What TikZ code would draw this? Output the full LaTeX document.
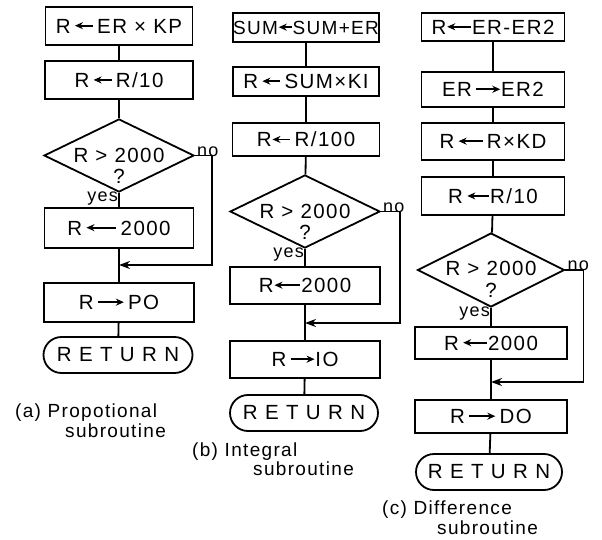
\documentclass[tikz,border=0pt]{standalone}
\usepackage{fontspec}
\setmainfont{Liberation Sans}[LetterSpace=7]
\usetikzlibrary{shapes.geometric,shapes.misc,arrows.meta}
\newcommand\lar[1][18]{\tikz[x=1pt,y=1pt,baseline=-0.36em]\draw[line width=1.7pt,{Stealth[length=8pt,width=7pt]}-](0,0)--(#1,0);}
\newcommand\rar[1][18]{\tikz[x=1pt,y=1pt,baseline=-0.36em]\draw[line width=1.7pt,-{Stealth[length=8pt,width=7pt]}](0,0)--(#1,0);}
\newcommand\rsp{\addfontfeature{LetterSpace=36}}
\tikzset{
  every node/.style={font=\fontsize{20.5}{23}\selectfont},
  box/.style n args={2}{draw,line width=1.8pt,rectangle,minimum width=#1,minimum height=#2,inner sep=1pt},
  ret/.style n args={2}{draw,line width=1.8pt,rounded rectangle,minimum width=#1,minimum height=#2,inner sep=1pt},
  dia/.style n args={2}{draw,line width=1.8pt,diamond,minimum width=#1,minimum height=#2,inner sep=0pt},
  lbl/.style={inner sep=0pt},
  small/.style={inner sep=0pt,font=\fontsize{18}{20}\selectfont},
  captxt/.style={inner sep=0pt,anchor=west,font=\fontsize{19}{20}\selectfont},
  conn/.style={line width=1.8pt},
  noarr/.style={line width=1.8pt,-{Stealth[length=11pt,width=8pt]}},
}
\begin{document}
\begin{tikzpicture}[x=1pt,y=-1pt]
\useasboundingbox (0,0) rectangle (602,540);
% ---------- column (a)
\node[box={147pt}{38pt}] (a1) at (119,26) {R\,\lar\,ER × KP};
\node[box={148pt}{38pt}] (a2) at (119,80) {R\,\lar\,R/10};
\node[dia={150pt}{73pt}] (ad) at (119,155.5) {};
\node[lbl] (adt) at (119,155) {R > 2000};
\node[lbl] (adq) at (119,176) {?};
\node[box={149pt}{40pt}] (a3) at (119,228) {R\,\lar[30]\,2000};
\coordinate (am) at (119,265);
\node[box={150pt}{39pt}] (a4) at (119,302.5) {R\,\rar[26]\,PO};
\node[ret={151pt}{36pt}] (ar) at (118,355) {\rsp RETURN};
\node[small,anchor=south west] (ano) at ([xshift=2pt,yshift=-1pt]ad.east) {no};
\node[small,anchor=north east] (ayes) at ([xshift=-1pt,yshift=1pt]ad.south) {yes};
\draw[conn] (a1) -- (a2);
\draw[conn] (a2) -- (ad);
\draw[conn] (ad) -- (a3);
\draw[conn] (a3) -- (a4);
\draw[conn] (a4) -- (ar);
\draw[noarr] (ad.east) -- ++(17,0) |- (am);
\node[captxt] (acap1) at (15,413) {(a) Propotional};
\node[captxt] (acap2) at (65,431) {subroutine};
% ---------- column (b)
\node[box={146pt}{29pt},font=\fontsize{19}{22}\selectfont,inner sep=0pt] (b1) at (306,27.5) {SUM\lar[13]SUM+ER};
\node[box={146pt}{29pt}] (b2) at (306,81.5) {R\,\lar\,SUM×KI};
\node[box={147pt}{33pt}] (b3) at (306,139.5) {R\lar\,R/100};
\node[dia={150pt}{73pt}] (bd) at (305,211.5) {};
\node[lbl] (bdt) at (305,211) {R > 2000};
\node[lbl] (bdq) at (305,232) {?};
\node[box={150pt}{37pt}] (b4) at (305,285.5) {R\lar[26]2000};
\coordinate (bm) at (305,323);
\node[box={150pt}{37pt}] (b5) at (305,359.5) {R\,\rar[24]IO};
\node[ret={150pt}{36pt}] (br) at (304,413) {\rsp RETURN};
\node[small,anchor=south west] (bno) at ([xshift=2pt,yshift=-1pt]bd.east) {no};
\node[small,anchor=north east] (byes) at ([xshift=-1pt,yshift=1pt]bd.south) {yes};
\draw[conn] (b1) -- (b2);
\draw[conn] (b2) -- (b3);
\draw[conn] (b3) -- (bd);
\draw[conn] (bd) -- (b4);
\draw[conn] (b4) -- (b5);
\draw[conn] (b5) -- (br);
\draw[noarr] (bd.east) -- ++(19,0) |- (bm);
\node[captxt] (bcap1) at (192,452) {(b) Integral};
\node[captxt] (bcap2) at (253,469) {subroutine};
% ---------- column (c)
\node[box={143pt}{28pt}] (c1) at (493,27) {R\lar[24]ER-ER2};
\node[box={143pt}{35pt}] (c2) at (493,89.5) {ER\,\rar[24]ER2};
\node[box={143pt}{37pt}] (c3) at (493,141.5) {R\,\lar[24]\,R×KD};
\node[box={143pt}{38pt}] (c4) at (493,196) {R\,\lar[22]R/10};
\node[dia={147pt}{74pt}] (cd) at (491,270) {};
\node[lbl] (cdt) at (491,268) {R > 2000};
\node[lbl] (cdq) at (491,290) {?};
\node[box={152pt}{32pt}] (c5) at (491,343) {R\,\lar[24]2000};
\coordinate (cm) at (491,382);
\node[box={152pt}{33pt}] (c6) at (491,416.5) {R\,\rar[26]\,DO};
\node[ret={148pt}{36pt}] (cr) at (489,472) {\rsp RETURN};
\node[small,anchor=south west] (cno) at ([xshift=2pt,yshift=-1pt]cd.east) {no};
\node[small,anchor=north east] (cyes) at ([xshift=-1pt,yshift=1pt]cd.south) {yes};
\draw[conn] (c1) -- (c2);
\draw[conn] (c2) -- (c3);
\draw[conn] (c3) -- (c4);
\draw[conn] (c4) -- (cd);
\draw[conn] (cd) -- (c5);
\draw[conn] (c5) -- (c6);
\draw[conn] (c6) -- (cr);
\draw[noarr] (cd.east) -- ++(18,0) |- (cm);
\node[captxt] (ccap1) at (382,510) {(c) Difference};
\node[captxt] (ccap2) at (437,528) {subroutine};
\end{tikzpicture}
\end{document}
